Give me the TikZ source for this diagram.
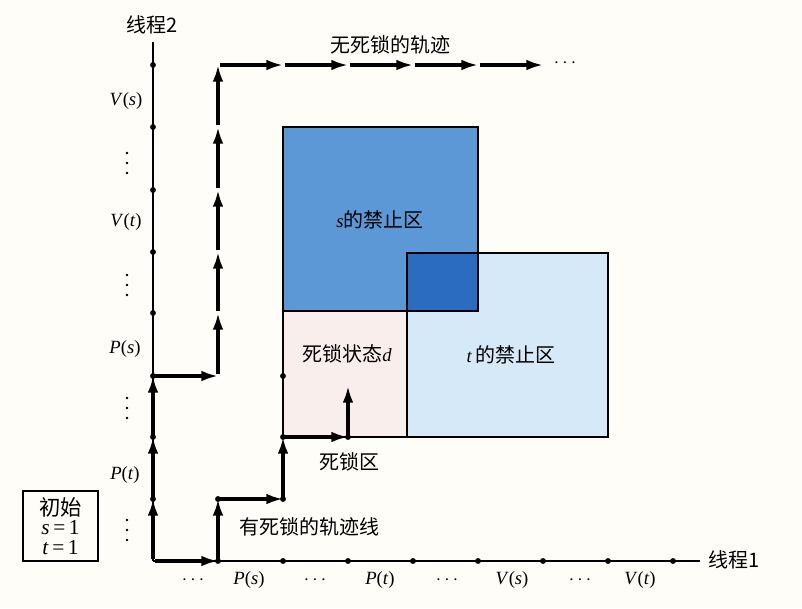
\documentclass[tikz,border=0pt]{standalone}
\usepackage{fontspec}
\setmainfont{Liberation Serif}
\newfontfamily\cjk{Noto Sans CJK SC}
\usetikzlibrary{arrows.meta}
\definecolor{bgc}{RGB}{255,253,247}
\definecolor{sblue}{RGB}{92,152,214}
\definecolor{dblue}{RGB}{44,108,192}
\definecolor{tblue}{RGB}{214,233,249}
\definecolor{dpink}{RGB}{250,238,236}
\begin{document}
\begin{tikzpicture}[x=0.75pt,y=-0.75pt,
  lbl/.style={inner sep=0pt, font=\fontsize{14}{16}\selectfont},
  cj/.style={inner sep=0pt, font=\fontsize{15}{18}\selectfont\cjk},
  traj/.style={line width=2.3pt, shorten <=1.2pt, -{Latex[length=12.5pt,width=8pt]}},
  axisline/.style={line width=0.8pt},
  region/.style={draw=black, line width=0.8pt},
  pt/.style={circle, fill=black, inner sep=0pt, minimum size=4.4pt},
  vd/.style={circle, fill=black, inner sep=0pt, minimum size=2.2pt}
]
\fill[bgc] (0,0) rectangle (802,608);
\useasboundingbox (0,0) rectangle (802,608);

% regions
\fill[tblue] (407,253) rectangle (608,437);
\fill[sblue] (283,127) rectangle (478,311);
\fill[dblue] (407,253) rectangle (478,311);
\fill[dpink] (283,311) rectangle (407,437);
\draw[region] (407,253) rectangle (608,437);
\draw[region] (283,127) rectangle (478,311);
\draw[region] (283,311) rectangle (407,437);

% axes
\coordinate (o) at (153,561);
\coordinate (xend) at (700,561);
\coordinate (yend) at (153,42);
\draw[axisline] (o) -- (xend);
\draw[axisline] (o) -- (yend);

% axis points
\foreach \i/\x in {1/218,2/283,3/348,4/413,5/478,6/543,7/608,8/673}
  \node[pt] (ax\i) at (\x,561) {};
\foreach \i/\y in {1/499,2/437,3/376,4/313,5/252,6/190,7/127,8/65}
  \node[pt] (ay\i) at (153,\y) {};

% deadlock trajectory points
\node[pt] (d1) at (218,499) {};
\node[pt] (d2) at (283,499) {};
\node[pt] (d3) at (283,437) {};
\node[pt] (d4) at (348,437) {};
\node[pt] (e1) at (283,376) {};
\coordinate (d5) at (348,386);

% deadlock-free trajectory points
\coordinate (f1) at (218,376);
\coordinate (f2) at (218,313);
\coordinate (f3) at (218,252);
\coordinate (f4) at (218,190);
\coordinate (f5) at (218,127);
\coordinate (f6) at (218,65);
\coordinate (f7) at (283,65);
\coordinate (f8) at (348,65);
\coordinate (f9) at (413,65);
\coordinate (f10) at (478,65);
\coordinate (f11) at (543,65);

% deadlock trajectory
\draw[traj] (o) -- (ax1.center);
\draw[traj] (ax1.center) -- (d1.center);
\draw[traj] (d1.center) -- (d2.center);
\draw[traj] (d2.center) -- (d3.center);
\draw[traj] (d3.center) -- (d4.center);
\draw[traj] (d4.center) -- (d5);

% deadlock-free trajectory
\draw[traj] (o) -- (ay1.center);
\draw[traj] (ay1.center) -- (ay2.center);
\draw[traj] (ay2.center) -- (ay3.center);
\draw[traj] (ay3.center) -- (f1);
\draw[traj] (f1) -- (f2);
\draw[traj] (f2) -- (f3);
\draw[traj] (f3) -- (f4);
\draw[traj] (f4) -- (f5);
\draw[traj] (f5) -- (f6);
\draw[traj] (f6) -- (f7);
\draw[traj] (f7) -- (f8);
\draw[traj] (f8) -- (f9);
\draw[traj] (f9) -- (f10);
\draw[traj] (f10) -- (f11);
\node[lbl] (topdots) at (565,63) {$\cdots$};

% axis labels
\node[cj] (t2) at (152,25) {线程2};
\node[cj, anchor=west] (t1) at (708,560) {线程1};

% y axis labels
\node[lbl] (vs) at (126,101) {\textit{V}(\textit{s})};
\node[lbl] (vt) at (126,222) {\textit{V}(\textit{t})};
\node[lbl] (ps) at (125,349) {\textit{P}(\textit{s})};
\node[lbl] (pt1) at (125,475) {\textit{P}(\textit{t})};
\foreach \y in {163,285,408,530}{
  \node[vd] at (127,\y-10) {};
  \node[vd] at (127,\y) {};
  \node[vd] at (127,\y+10) {};
}

% x axis labels
\node[lbl] (xd1) at (193,580) {$\cdots$};
\node[lbl] (xps) at (249,580) {\textit{P}(\textit{s})};
\node[lbl] (xd2) at (315,580) {$\cdots$};
\node[lbl] (xpt) at (380,580) {\textit{P}(\textit{t})};
\node[lbl] (xd3) at (447,580) {$\cdots$};
\node[lbl] (xvs) at (512,580) {\textit{V}(\textit{s})};
\node[lbl] (xd4) at (580,580) {$\cdots$};
\node[lbl] (xvt) at (640,580) {\textit{V}(\textit{t})};

% region labels
\node[cj] (free) at (390,45) {无死锁的轨迹};
\node[lbl] (sreg) at (380,220) {\textit{s}{\cjk\fontsize{15}{18}\selectfont 的禁止区}};
\node[lbl] (treg) at (511,355) {\textit{t}\,{\cjk\fontsize{15}{18}\selectfont 的禁止区}};
\node[lbl] (dstate) at (347,354) {{\cjk\fontsize{15}{18}\selectfont 死锁状态}\textit{d}};
\node[cj] (dreg) at (349,462) {死锁区};
\node[cj] (dtraj) at (309,527) {有死锁的轨迹线};

% initial box
\node[draw=black, line width=0.8pt, minimum width=75pt*0.75, minimum height=70pt*0.75,
      inner sep=0pt, align=center, font=\fontsize{16}{14.5}\selectfont] (init) at (60.5,526)
  {{\cjk 初始}\\\textit{s}\,=\,1\\\textit{t}\,=\,1};
\end{tikzpicture}
\end{document}
